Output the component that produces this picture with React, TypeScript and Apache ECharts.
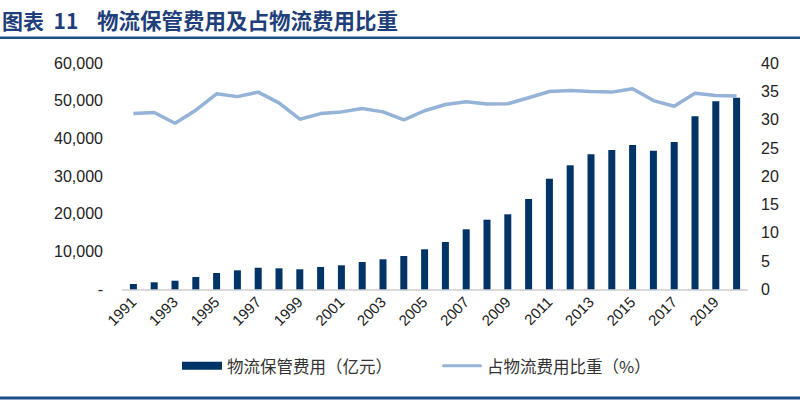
import React, { useEffect, useRef } from "react";
import * as echarts from "echarts";

const years = [
  "1991", "1992", "1993", "1994", "1995", "1996", "1997", "1998", "1999", "2000",
  "2001", "2002", "2003", "2004", "2005", "2006", "2007", "2008", "2009", "2010",
  "2011", "2012", "2013", "2014", "2015", "2016", "2017", "2018", "2019", "2020",
];
const storageCost = [
  1400, 1860, 2280, 3270, 4330, 5040, 5740, 5570, 5310, 5920,
  6370, 7250, 7960, 8840, 10620, 12560, 15930, 18480, 19910, 23970,
  29360, 32920, 35840, 36980, 38310, 36800, 39100, 45930, 49910, 50870,
];
const shareOfLogistics = [
  31.1, 31.3, 29.4, 31.7, 34.6, 34.1, 34.9, 33.0, 30.1, 31.1,
  31.4, 32.0, 31.4, 30.0, 31.6, 32.7, 33.2, 32.8, 32.85, 33.9,
  35.0, 35.2, 35.0, 34.9, 35.5, 33.4, 32.4, 34.7, 34.3, 34.2,
];
const titleLabel = "图表  11";
const titleText = "物流保管费用及占物流费用比重";
const barName = "物流保管费用（亿元）";
const lineName = "占物流费用比重（%）";

const navy = "#003366";
const lightBlue = "#95B3D7";
const titleBlue = "#1F3F7A";
const ruleBlue = "#1F4E8C";
const font = "Liberation Sans, Arial, sans-serif";
const cjk = "Noto Sans CJK SC";

export default function App() {
  const ref = useRef<HTMLDivElement>(null);
  useEffect(() => {
    if (!ref.current) return;
    const chart = echarts.init(ref.current, undefined, { renderer: "svg" });
    chart.setOption({
      animation: false,
      backgroundColor: "#ffffff",
      graphic: [
        {
          type: "text",
          left: 2,
          top: 9,
          style: { text: titleLabel, fontSize: 21, fontWeight: "bold", fill: titleBlue, fontFamily: cjk },
        },
        {
          type: "text",
          left: 97,
          top: 9,
          style: { text: titleText, fontSize: 21.5, fontWeight: "bold", fill: titleBlue, fontFamily: cjk },
        },
        { type: "rect", shape: { x: 0, y: 36.5, width: 800, height: 2.5 }, style: { fill: ruleBlue } },
        { type: "rect", shape: { x: 0, y: 396.5, width: 800, height: 3 }, style: { fill: ruleBlue } },
      ],
      grid: { left: 123, right: 53, top: 63.3, bottom: 111.7, containLabel: false },
      legend: {
        bottom: 22,
        left: 177,
        itemWidth: 40,
        itemHeight: 8,
        itemGap: 50,
        textStyle: { fontSize: 16.5, color: "#333", fontFamily: cjk },
        data: [
          { name: barName, icon: "rect" },
          { name: lineName, icon: "path://M1.5,0 L38.5,0 A1.5,1.5 0 0 1 38.5,3 L1.5,3 A1.5,1.5 0 0 1 1.5,0 Z" },
        ],
      },
      xAxis: {
        type: "category",
        data: years,
        axisLine: { lineStyle: { color: "#D9D9D9", width: 2 } },
        axisTick: { show: false },
        axisLabel: {
          interval: 1,
          rotate: 45,
          fontSize: 15,
          color: "#222",
          fontFamily: font,
          margin: 10,
        },
      },
      yAxis: [
        {
          type: "value",
          min: 0,
          max: 60000,
          interval: 10000,
          splitLine: { show: false },
          axisLine: { show: false },
          axisTick: { show: false },
          axisLabel: {
            fontSize: 16,
            color: "#222",
            fontFamily: font,
            margin: 20,
            formatter: (v: number) => (v === 0 ? "-" : v.toLocaleString("en-US")),
          },
        },
        {
          type: "value",
          min: 0,
          max: 40,
          interval: 5,
          splitLine: { show: false },
          axisLine: { show: false },
          axisTick: { show: false },
          axisLabel: { fontSize: 16, color: "#222", fontFamily: font, margin: 14 },
        },
      ],
      series: [
        {
          name: barName,
          type: "bar",
          data: storageCost,
          yAxisIndex: 0,
          barWidth: 7,
          itemStyle: { color: navy },
        },
        {
          name: lineName,
          type: "line",
          data: shareOfLogistics,
          yAxisIndex: 1,
          symbol: "none",
          lineStyle: { color: lightBlue, width: 3.5 },
          itemStyle: { color: lightBlue },
        },
      ],
    });
    return () => chart.dispose();
  }, []);
  return <div ref={ref} style={{ width: 800, height: 401, position: "absolute", left: 0, top: 0 }} />;
}
